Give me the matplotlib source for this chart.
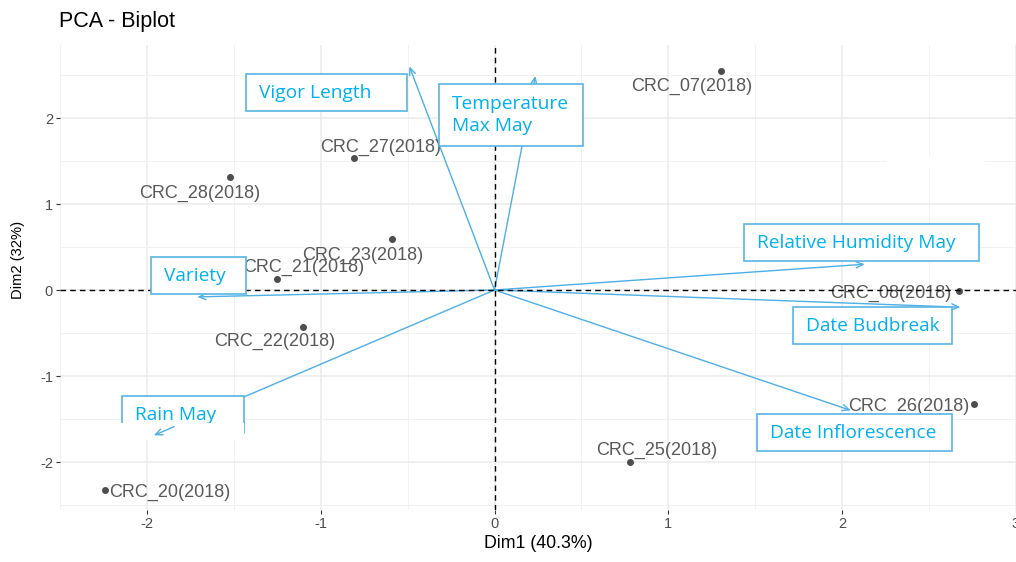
import matplotlib
matplotlib.use("Agg")
import matplotlib.pyplot as plt
from matplotlib.patches import Rectangle
import numpy as np

plt.rcParams["axes.unicode_minus"] = False

# ---- data ----
ind_names = ["CRC_07(2018)", "CRC_27(2018)", "CRC_28(2018)", "CRC_23(2018)", "CRC_21(2018)",
             "CRC_22(2018)", "CRC_20(2018)", "CRC_25(2018)", "CRC_26(2018)", "CRC_08(2018)"]
ind_dim1 = [1.30, -0.81, -1.52, -0.59, -1.25, -1.10, -2.24, 0.78, 2.76, 2.67]
ind_dim2 = [2.55, 1.53, 1.31, 0.59, 0.13, -0.43, -2.33, -2.00, -1.33, -0.01]

var_names = ["Vigor Length", "Temperature\nMax May", "Relative Humidity May", "Variety",
             "Date Budbreak", "Date Inflorescence", "Rain May"]
var_dim1 = [-0.49, 0.235, 2.13, -1.71, 2.68, 2.05, -1.96]
var_dim2 = [2.60, 2.49, 0.30, -0.08, -0.20, -1.40, -1.69]

x_ticks = [-2, -1, 0, 1, 2, 3]
y_ticks = [-2, -1, 0, 1, 2]

# ---- layout (label placement) ----
ind_label_offsets = [(-0.166, -0.186), (0.155, 0.128), (-0.177, -0.186), (-0.166, -0.186),
                     (0.150, 0.128), (-0.166, -0.170), (0.372, -0.023), (0.155, 0.140),
                     (-0.378, -0.023), (-0.389, -0.035)]
# boxes: (x0, x1, y_bottom, y_top)
var_boxes = [(-1.431, -0.504, 2.081, 2.512),
             (-0.321, 0.509, 1.674, 2.395),
             (1.437, 2.788, 0.337, 0.767),
             (-1.975, -1.431, -0.047, 0.384),
             (1.717, 2.633, -0.628, -0.198),
             (1.511, 2.633, -1.872, -1.442),
             (-2.141, -1.442, -1.663, -1.233)]
# white patches present in the reference image: (x0, x1, y_bottom, y_top)
white_masks = [(-2.26, -1.44, -1.744, -1.547),
               (2.251, 2.824, 1.419, 1.558)]

arrow_col = "#4DAEE8"
box_edge = "#58B4E4"
box_text = "#00B0F0"

fig = plt.figure(figsize=(10.16, 5.62), dpi=100)
ax = fig.add_axes([60/1016, 1 - 510/562, 956/1016, 465/562])
ax.set_xlim(-2.484, 2.988)
ax.set_ylim(-2.558, 2.849)

for s in ax.spines.values():
    s.set_visible(False)
ax.set_xticks(x_ticks)
ax.set_yticks(y_ticks)
ax.set_xticks(np.arange(-2.5, 3.0, 1.0), minor=True)
ax.set_yticks(np.arange(-2.5, 3.0, 1.0), minor=True)
ax.grid(which="major", color="#EBEBEB", linewidth=1.1)
ax.grid(which="minor", color="#F2F2F2", linewidth=0.7)
ax.set_axisbelow(True)
ax.tick_params(which="major", length=3, width=0.8, color="#333333", pad=2,
               labelsize=10.5, labelcolor="#4D4D4D")
ax.tick_params(which="minor", length=0)
for lab in ax.get_xticklabels() + ax.get_yticklabels():
    lab.set_fontfamily("Liberation Sans")

ax.set_xlabel("Dim1 (40.3%)", fontsize=12.8, family="Liberation Sans", labelpad=3)
fig.text(18/1016, 1 - 260/562, "Dim2 (32%)", fontsize=10.6, family="Liberation Sans",
         rotation=90, ha="center", va="center")
fig.text(59/1016, 1 - 22/562, "PCA - Biplot", fontsize=15.5, family="Liberation Sans",
         va="center", ha="left")

# reference lines
ax.axhline(0, color="black", linestyle=(0, (4, 3)), linewidth=1.0, zorder=4)
ax.axvline(0, color="black", linestyle=(0, (4, 3)), linewidth=1.0, zorder=4)

# arrows for variables
astyle = "->,head_length=0.5,head_width=0.22"
for vx, vy in zip(var_dim1, var_dim2):
    ax.annotate("", xy=(vx, vy), xytext=(0, 0),
                arrowprops=dict(arrowstyle=astyle, color=arrow_col, lw=1.0,
                                shrinkA=0, shrinkB=0),
                zorder=2)

# individuals
ax.scatter(ind_dim1, ind_dim2, s=16, color="#4D4D4D", zorder=3)
for name, x, y, (dx, dy) in zip(ind_names, ind_dim1, ind_dim2, ind_label_offsets):
    ax.text(x + dx, y + dy, name, fontsize=13, color="#595959", family="Liberation Sans",
            ha="center", va="center", zorder=3)

# variable labels in boxes
for name, (x0, x1, yb, yt) in zip(var_names, var_boxes):
    ax.add_patch(Rectangle((x0, yb), x1 - x0, yt - yb, facecolor="white",
                           edgecolor=box_edge, linewidth=1.2, zorder=5))
    ax.text(x0 + 0.075, (yb + yt) / 2, name, fontsize=13.8, color=box_text,
            family="Open Sans", ha="left", va="center", linespacing=1.25, zorder=6)

# white patches (image artefacts in the reference)
for x0, x1, yb, yt in white_masks:
    ax.add_patch(Rectangle((x0, yb), x1 - x0, yt - yb, facecolor="white",
                           edgecolor="none", zorder=6.5))

# Rain May arrow tip remains visible over the patch
rx, ry = var_dim1[6], var_dim2[6]
ax.annotate("", xy=(rx, ry), xytext=(rx * 0.94, ry * 0.94),
            arrowprops=dict(arrowstyle=astyle, color=arrow_col, lw=1.0,
                            shrinkA=0, shrinkB=0),
            zorder=7)

fig.savefig("out.png", dpi=100)
